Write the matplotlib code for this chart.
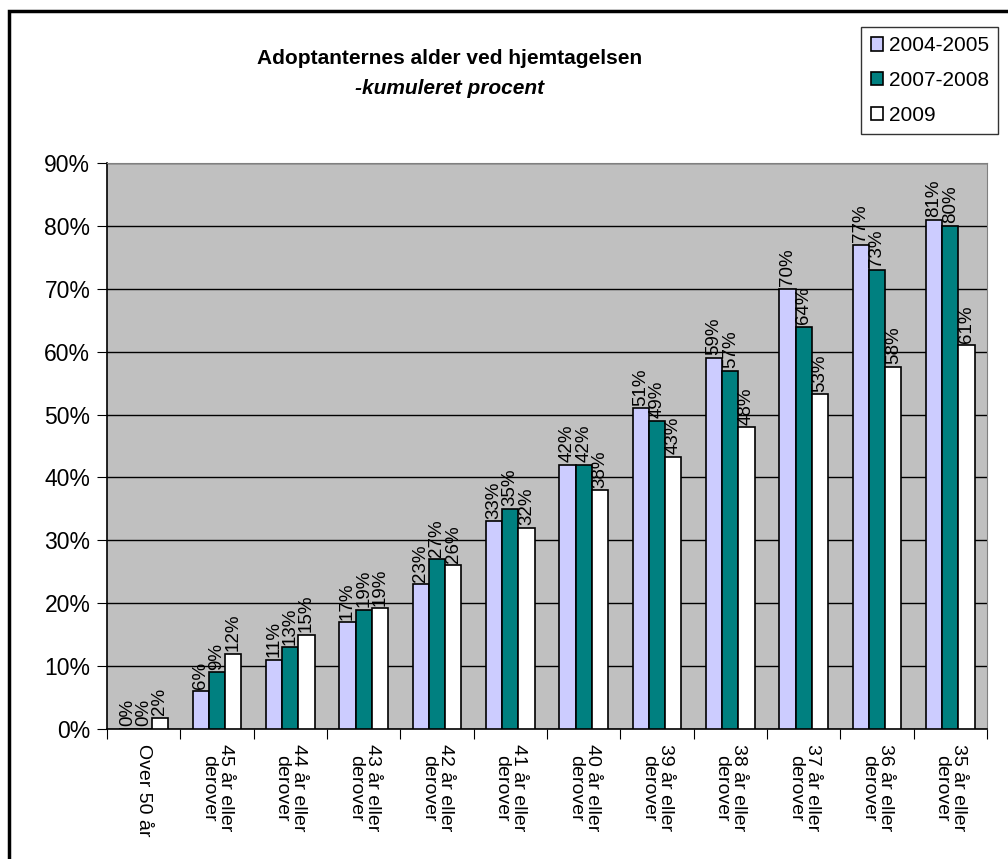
import matplotlib
matplotlib.use("Agg")
import matplotlib.pyplot as plt
import numpy as np
from matplotlib.patches import Rectangle

plt.rcParams["font.family"] = ["Liberation Sans", "DejaVu Sans"]

categories = [
    "Over 50 år",
    "45 år eller\nderover",
    "44 år eller\nderover",
    "43 år eller\nderover",
    "42 år eller\nderover",
    "41 år eller\nderover",
    "40 år eller\nderover",
    "39 år eller\nderover",
    "38 år eller\nderover",
    "37 år eller\nderover",
    "36 år eller\nderover",
    "35 år eller\nderover",
]
series_names = ["2004-2005", "2007-2008", "2009"]
vals_0405 = [0, 6, 11, 17, 23, 33, 42, 51, 59, 70, 77, 81]
vals_0708 = [0, 9, 13, 19, 27, 35, 42, 49, 57, 64, 73, 80]
vals_2009 = [1.8, 12, 15, 19.2, 26, 32, 38, 43.3, 48, 53.2, 57.6, 61]
colors = ["#CCCCFF", "#008080", "#FFFFFF"]

fig = plt.figure(figsize=(10.08, 8.59), dpi=100)
ax = fig.add_axes([107 / 1008, 1 - 729 / 859, 880 / 1008, 566 / 859])
ax.set_facecolor("#C0C0C0")

x = np.arange(len(categories))
width = 0.222
for i, (name, vals, c) in enumerate(zip(series_names, [vals_0405, vals_0708, vals_2009], colors)):
    pos = x + (i - 1) * width
    ax.bar(pos, vals, width, color=c, edgecolor="black", linewidth=1.2, label=name, zorder=3)
    for p, v in zip(pos, vals):
        ax.text(p, v + 0.4, f"{v:.0f}%", rotation=90, ha="center", va="bottom",
                fontsize=13.5, zorder=4)

ax.set_ylim(0, 90)
ax.set_xlim(-0.5, len(categories) - 0.5)
ax.set_yticks(np.arange(0, 91, 10))
ax.set_yticklabels([f"{t}%" for t in range(0, 91, 10)], fontsize=16.5)
ax.yaxis.grid(True, color="black", linewidth=1)
ax.set_axisbelow(True)

ax.set_xticks(np.arange(-0.5, len(categories), 1))
ax.set_xticklabels([])
ax.set_xticks(x, minor=True)
ax.set_xticklabels(categories, minor=True, rotation=270, fontsize=14,
                   va="top", ha="center", linespacing=1.0)
ax.tick_params(axis="x", which="minor", length=0, pad=11)
ax.tick_params(axis="x", which="major", length=7, direction="out")
ax.tick_params(axis="y", length=7, direction="out", pad=5)

for side in ["top", "right"]:
    ax.spines[side].set_color("#808080")
for side in ["left", "bottom"]:
    ax.spines[side].set_color("black")
    ax.spines[side].set_linewidth(1.2)

fig.text(450 / 1008, 1 - 58 / 859, "Adoptanternes alder ved hjemtagelsen",
         ha="center", va="center", fontsize=15, fontweight="bold")
fig.text(450 / 1008, 1 - 88 / 859, "-kumuleret procent",
         ha="center", va="center", fontsize=15, fontweight="bold", style="italic")

leg = fig.legend(loc="upper right", bbox_to_anchor=(998 / 1008, 1 - 27 / 859),
                 fontsize=15, frameon=True, fancybox=False, edgecolor="black",
                 handlelength=0.6, handleheight=0.6, handletextpad=0.25,
                 labelspacing=0.75, borderpad=0.45, borderaxespad=0)
leg.get_frame().set_linewidth(1)

fig.patches.append(Rectangle((9 / 1008, -0.02), 1.05, 1 - 11 / 859 + 0.02,
                             transform=fig.transFigure, fill=False,
                             edgecolor="black", linewidth=2.5))

fig.savefig("out.png", dpi=100)
